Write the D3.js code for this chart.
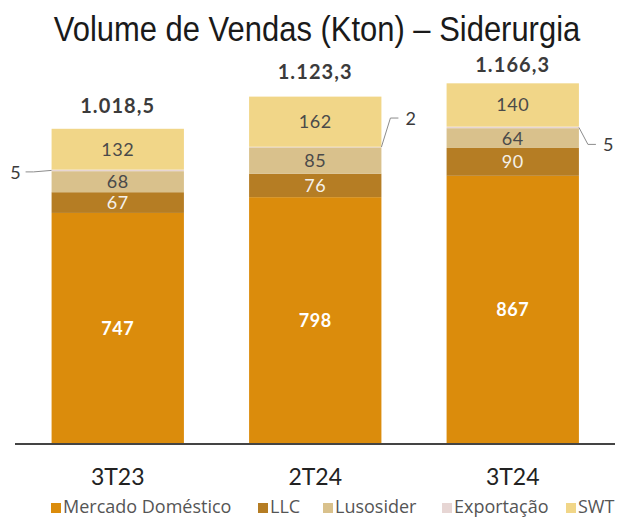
<!DOCTYPE html>
<html>
  <head>
    <meta charset="utf-8">
    <title>Volume de Vendas - Siderurgia</title>
    <style>
      body { margin: 0; background: #fff; }
      svg text { font-family: Lato, "Open Sans", sans-serif; }
      .title { font-family: "Liberation Sans", Arial, sans-serif !important; }
    </style>
  </head>
  <body>
  <svg id="chart"></svg>
  <script src="https://d3js.org/d3.v7.min.js"></script>
  <script>
    // data
    var quarters = ["3T23", "2T24", "3T24"];
    var seriesNames = ["Mercado Doméstico", "LLC", "Lusosider", "Exportação", "SWT"];
    var mercado = [747, 798, 867];
    var llc = [67, 76, 90];
    var lusosider = [68, 85, 64];
    var exportacao = [5, 2, 5];
    var swt = [132, 162, 140];
    var totalLabels = ["1.018,5", "1.123,3", "1.166,3"];
    var colors = ["#db8c0c", "#b57d24", "#d9c18c", "#e7d6d4", "#f1d688"];

    var width = 623, height = 518;
    var svg = d3.select("#chart").attr("width", width).attr("height", height);

    var rows = quarters.map(function(q, i) {
      return { q: q, "Mercado Doméstico": mercado[i], "LLC": llc[i], "Lusosider": lusosider[i],
               "Exportação": exportacao[i], "SWT": swt[i], total: totalLabels[i] };
    });

    var x = d3.scaleBand().domain(quarters).range([19, 611.5]).paddingInner(0.33).paddingOuter(0.165);
    var y = d3.scaleLinear().domain([0, 1200]).range([444, 72.8]);

    var stack = d3.stack().keys(seriesNames)(rows);

    // title (condensed like the original)
    svg.append("text").attr("class", "title")
      .attr("transform", "translate(317,41) scale(0.86,1)")
      .attr("text-anchor", "middle")
      .style("font-size", "36px").style("fill", "#1a1a1a")
      .text("Volume de Vendas (Kton) – Siderurgia");

    // bars
    var layer = svg.selectAll("g.layer").data(stack).enter().append("g")
      .attr("class", "layer")
      .attr("fill", function(d, i) { return colors[i]; });

    layer.selectAll("rect").data(function(d) { return d; }).enter().append("rect")
      .attr("x", function(d) { return x(d.data.q); })
      .attr("y", function(d) { return y(d[1]); })
      .attr("height", function(d) { return y(d[0]) - y(d[1]); })
      .attr("width", x.bandwidth());

    // segment labels (not for Exportação)
    var labelStyle = {
      "Mercado Doméstico": { fill: "#ffffff", weight: "bold" },
      "LLC": { fill: "#f4f1ea", weight: "normal" },
      "Lusosider": { fill: "#4a4a4a", weight: "normal" },
      "SWT": { fill: "#4a4a4a", weight: "normal" }
    };
    stack.forEach(function(s) {
      if (s.key === "Exportação") return;
      s.forEach(function(d) {
        svg.append("text")
          .attr("x", x(d.data.q) + x.bandwidth() / 2)
          .attr("y", (y(d[0]) + y(d[1])) / 2)
          .attr("dy", "0.36em")
          .attr("text-anchor", "middle")
          .style("font-size", "18px")
          .style("letter-spacing", "0.5px")
          .style("font-weight", labelStyle[s.key].weight)
          .style("fill", labelStyle[s.key].fill)
          .text(d[1] - d[0]);
      });
    });

    // totals
    rows.forEach(function(r, i) {
      var top = stack[4][i][1];
      svg.append("text")
        .attr("x", x(r.q) + x.bandwidth() / 2)
        .attr("y", y(top) - [16, 18, 11][i])
        .attr("text-anchor", "middle")
        .style("font-size", "20px").style("font-weight", "bold").style("fill", "#3b3b3b")
        .style("letter-spacing", "1.1px")
        .text(r.total);
    });

    // callouts for Exportação
    var exp = stack[3];
    var callouts = [
      { side: "left" }, { side: "right", dy: -29 }, { side: "right", dy: 17 }
    ];
    exp.forEach(function(d, i) {
      var ym = (y(d[0]) + y(d[1])) / 2;
      var bx = x(d.data.q), bw = x.bandwidth();
      var pts, tx, ty, anchor;
      if (callouts[i].side === "left") {
        pts = [[bx, ym], [bx - 18, ym + 1.5], [bx - 26, ym + 1.5]];
        tx = bx - 31; ty = ym + 2; anchor = "end";
      } else {
        var ey = ym + callouts[i].dy;
        pts = [[bx + bw, ym], [bx + bw + 9, ey], [bx + bw + 17, ey]];
        tx = bx + bw + 24; ty = ey; anchor = "start";
      }
      svg.append("path")
        .attr("d", d3.line()(pts))
        .attr("fill", "none").attr("stroke", "#8c8c8c").attr("stroke-width", 1);
      svg.append("text")
        .attr("x", tx).attr("y", ty).attr("dy", "0.36em")
        .attr("text-anchor", anchor)
        .style("font-size", "18px").style("fill", "#3b3b3b")
        .text(exportacao[i]);
    });

    // axis
    var xAxis = svg.append("g")
      .attr("transform", "translate(0,444)")
      .call(d3.axisBottom(x).tickSize(0).tickPadding(25));
    xAxis.select(".domain").attr("d", "M15,0H615").attr("stroke", "#444").attr("stroke-width", 2);
    xAxis.selectAll("text")
      .style("font-family", "Lato, sans-serif")
      .style("font-size", "23px").style("fill", "#222");

    // legend
    var legendX = [51, 258, 323, 442, 566];
    var leg = svg.selectAll("g.leg").data(seriesNames).enter().append("g")
      .attr("class", "leg")
      .attr("transform", function(d, i) { return "translate(" + legendX[i] + ",513)"; });
    leg.append("rect").attr("x", 0).attr("y", -10).attr("width", 10).attr("height", 10)
      .attr("fill", function(d, i) { return colors[i]; });
    leg.append("text").attr("x", 12)
      .style("font-family", "'Open Sans', sans-serif")
      .style("font-size", "18px").style("fill", "#555")
      .text(function(d) { return d; });
  </script>
  </body>
</html>
